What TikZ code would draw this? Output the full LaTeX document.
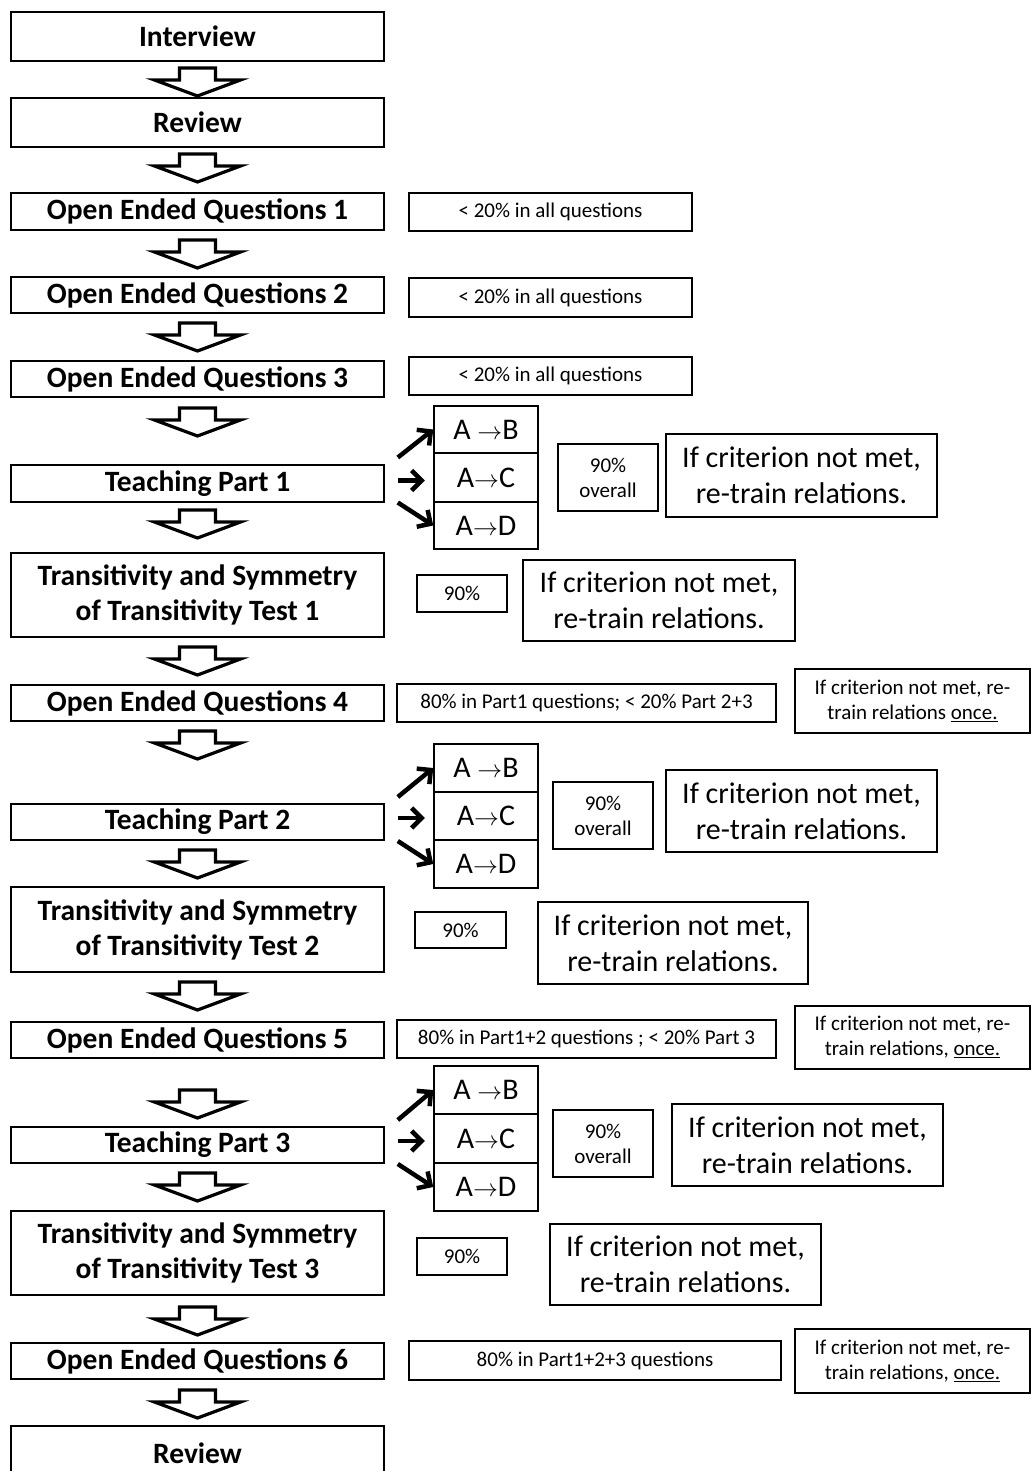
\documentclass[tikz,border=0pt]{standalone}
\usepackage{fontspec}
\setmainfont{Carlito}
\usetikzlibrary{arrows.meta,calc}
\newcommand\bx[7]{\node[#6, minimum width={(#4-#2)*1pt}, minimum height={(#5-#3)*1pt}] (#1) at ({(#2+#4)/2},{(#3+#5)/2}) {#7};}
\tikzset{
  mainbox/.style={draw, line width=1.6pt, inner sep=0pt, align=center, font=\fontsize{29.5}{35}\selectfont\bfseries},
  critbox/.style={draw, line width=1.5pt, inner sep=0pt, align=center, font=\fontsize{21}{25}\selectfont},
  bigbox/.style={draw, line width=1.5pt, inner sep=0pt, align=center, font=\fontsize{30}{36}\selectfont},
  sarrow/.style={line width=4.5pt, -{Straight Barb[length=10pt,width=20pt]}},
  barrow/.pic={\draw[line width=3.2pt, fill=white, line join=miter] (-18,0) -- (18,0) -- (18,12) -- (43,12) -- (0,28) -- (-43,12) -- (-18,12) -- cycle;}
}
\begin{document}
\begin{tikzpicture}[x=1pt,y=-1pt]
\useasboundingbox (0,0) rectangle (1031,1471);
\clip (0,0) rectangle (1031,1471);
% main column
\bx{int}{11}{12}{384}{61}{mainbox}{Interview}
\bx{rev1}{11}{98}{384}{147}{mainbox}{Review}
\bx{oeq1}{11}{193}{384}{230}{mainbox}{Open Ended Questions 1}
\bx{oeq2}{11}{277}{384}{313}{mainbox}{Open Ended Questions 2}
\bx{oeq3}{11}{361}{384}{397}{mainbox}{Open Ended Questions 3}
\bx{tp1}{11}{465}{384}{502}{mainbox}{Teaching Part 1}
\bx{tst1}{11}{553}{384}{637}{mainbox}{Transitivity and Symmetry\\of Transitivity Test 1}
\bx{oeq4}{11}{685}{384}{721}{mainbox}{Open Ended Questions 4}
\bx{tp2}{11}{804}{384}{840}{mainbox}{Teaching Part 2}
\bx{tst2}{11}{887}{384}{972}{mainbox}{Transitivity and Symmetry\\of Transitivity Test 2}
\bx{oeq5}{11}{1022}{384}{1058}{mainbox}{Open Ended Questions 5}
\bx{tp3}{11}{1127}{384}{1163}{mainbox}{Teaching Part 3}
\bx{tst3}{11}{1211}{384}{1295}{mainbox}{Transitivity and Symmetry\\of Transitivity Test 3}
\bx{oeq6}{11}{1343}{384}{1379}{mainbox}{Open Ended Questions 6}
\node[mainbox, minimum width=373pt, minimum height=54pt] (rev2) at (197.5,1453) {Review};
% block arrows
\foreach \t in {68,154,240,323,408,510,647,731,850,982,1090,1173,1307,1390}
  \pic at (197.5,\t) {barrow};
% criteria for open ended questions
\bx{c1}{409}{193}{692}{231}{critbox}{< 20\% in all questions}
\bx{c2}{409}{278}{692}{317}{critbox}{< 20\% in all questions}
\bx{c3}{409}{357}{692}{395}{critbox}{< 20\% in all questions}
\bx{c4}{397}{684}{776}{722}{critbox}{80\% in Part1 questions; < 20\% Part 2+3}
\bx{r4}{795}{669}{1030}{733}{critbox}{If criterion not met, re-\\train relations \underline{once.}}
\bx{c5}{397}{1020}{776}{1058}{critbox}{80\% in Part1+2 questions ; < 20\% Part 3}
\bx{r5}{795}{1006}{1030}{1069}{critbox}{If criterion not met, re-\\train relations, \underline{once.}}
\bx{c6}{409}{1341}{781}{1380}{critbox}{80\% in Part1+2+3 questions}
\bx{r6}{795}{1329}{1030}{1393}{critbox}{If criterion not met, re-\\train relations, \underline{once.}}
% teaching part 1
\bx{ab1}{434}{406}{538}{453}{bigbox}{A \ensuremath{\rightarrow}B}
\bx{ac1}{434}{453}{538}{502}{bigbox}{A\ensuremath{\rightarrow}C}
\bx{ad1}{434}{502}{538}{549}{bigbox}{A\ensuremath{\rightarrow}D}
\bx{p1}{558}{444}{658}{511}{critbox}{90\%\\overall}
\bx{f1}{666}{434}{937}{517}{bigbox}{If criterion not met,\\re-train relations.}
\draw[sarrow] ($(tp1.east)+(13,-26)$) -- (ab1.west);
\draw[sarrow] ($(tp1.east)+(13,-3)$) -- +(27,0);
\draw[sarrow] ($(tp1.east)+(13,19)$) -- (ad1.west);
% test 1
\bx{q1}{417}{575}{507}{612}{critbox}{90\%}
\bx{g1}{523}{560}{795}{641}{bigbox}{If criterion not met,\\re-train relations.}
% teaching part 2
\bx{ab2}{434}{744}{538}{792}{bigbox}{A \ensuremath{\rightarrow}B}
\bx{ac2}{434}{792}{538}{840}{bigbox}{A\ensuremath{\rightarrow}C}
\bx{ad2}{434}{840}{538}{888}{bigbox}{A\ensuremath{\rightarrow}D}
\bx{p2}{553}{782}{653}{849}{critbox}{90\%\\overall}
\bx{f2}{666}{770}{937}{852}{bigbox}{If criterion not met,\\re-train relations.}
\draw[sarrow] ($(tp2.east)+(13,-25)$) -- (ab2.west);
\draw[sarrow] ($(tp2.east)+(13,-4)$) -- +(27,0);
\draw[sarrow] ($(tp2.east)+(13,19)$) -- (ad2.west);
% test 2
\bx{q2}{415}{912}{506}{948}{critbox}{90\%}
\bx{g2}{538}{902}{808}{984}{bigbox}{If criterion not met,\\re-train relations.}
% teaching part 3
\bx{ab3}{434}{1066}{538}{1114}{bigbox}{A \ensuremath{\rightarrow}B}
\bx{ac3}{434}{1114}{538}{1163}{bigbox}{A\ensuremath{\rightarrow}C}
\bx{ad3}{434}{1163}{538}{1211}{bigbox}{A\ensuremath{\rightarrow}D}
\bx{p3}{553}{1110}{653}{1177}{critbox}{90\%\\overall}
\bx{f3}{672}{1104}{943}{1186}{bigbox}{If criterion not met,\\re-train relations.}
\draw[sarrow] ($(tp3.east)+(13,-25)$) -- (ab3.west);
\draw[sarrow] ($(tp3.east)+(13,-4)$) -- +(27,0);
\draw[sarrow] ($(tp3.east)+(13,19)$) -- (ad3.west);
% test 3
\bx{q3}{417}{1238}{507}{1275}{critbox}{90\%}
\bx{g3}{550}{1224}{821}{1305}{bigbox}{If criterion not met,\\re-train relations.}
\end{tikzpicture}
\end{document}
